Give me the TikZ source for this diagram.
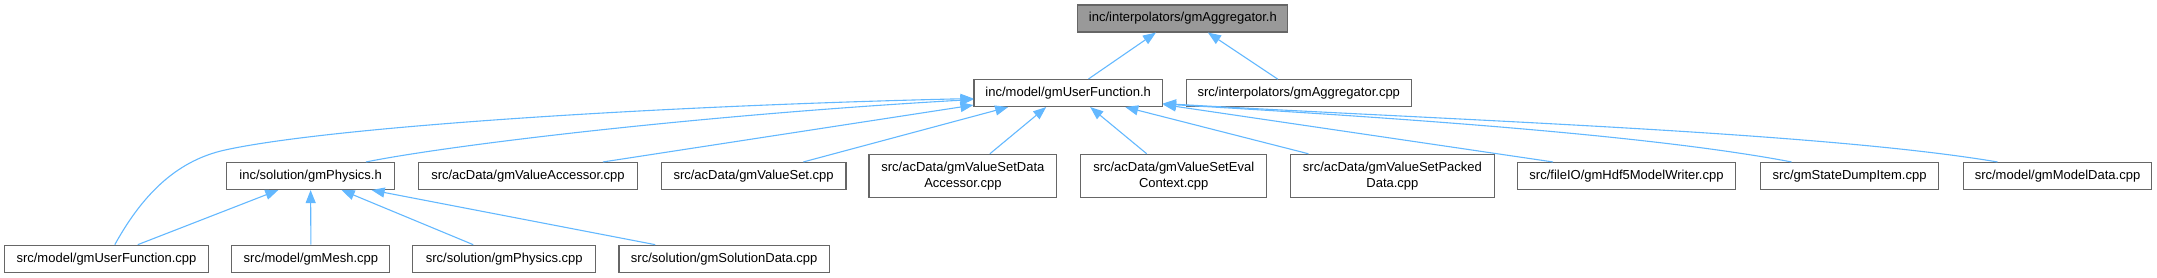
\documentclass[tikz,border=0pt]{standalone}
\usepackage{fontspec}
\setmainfont{Liberation Sans}
\usetikzlibrary{arrows.meta,calc}
\definecolor{edgeblue}{HTML}{63B8FF}
\definecolor{boxborder}{HTML}{666666}
\definecolor{mainfill}{HTML}{999999}
\begin{document}
\begin{tikzpicture}[x=1pt,y=-1pt,
  box/.style={draw=boxborder, line width=1.1pt, fill=white, inner sep=0pt, align=center, font=\fontsize{13}{16}\selectfont, minimum height=27pt},
  tallbox/.style={box, minimum height=43pt},
  mainbox/.style={box, fill=mainfill},
  edge/.style={draw=edgeblue, line width=1.1pt, -{Triangle[length=13pt,width=10pt]}, fill=none}
]
\useasboundingbox (0,0) rectangle (2157,277);

\node[mainbox, minimum width=210pt] (agg) at (1182.9,18.5) {inc/interpolators/gmAggregator.h};
\node[box, minimum width=188.5pt] (uf) at (1068.2,93) {inc/model/gmUserFunction.h};
\node[box, minimum width=225pt] (aggcpp) at (1298.8,93.2) {src/interpolators/gmAggregator.cpp};
\node[box, minimum width=167.7pt] (ph) at (310.6,176) {inc/solution/gmPhysics.h};
\node[box, minimum width=219.5pt] (va) at (528,176) {src/acData/gmValueAccessor.cpp};
\node[box, minimum width=184.8pt] (vs) at (753.6,176) {src/acData/gmValueSet.cpp};
\node[tallbox, minimum width=187.8pt] (vsda) at (962.9,175.8) {src/acData/gmValueSetData\\Accessor.cpp};
\node[tallbox, minimum width=186pt] (vsec) at (1173.7,175.8) {src/acData/gmValueSetEval\\Context.cpp};
\node[tallbox, minimum width=203.8pt] (vspd) at (1392.4,175.8) {src/acData/gmValueSetPacked\\Data.cpp};
\node[box, minimum width=218.5pt] (hdf) at (1626.5,176) {src/fileIO/gmHdf5ModelWriter.cpp};
\node[box, minimum width=178.6pt] (sdi) at (1849.6,176) {src/gmStateDumpItem.cpp};
\node[box, minimum width=188.5pt] (md) at (2057.5,176) {src/model/gmModelData.cpp};
\node[box, minimum width=203.9pt] (ufcpp) at (106.5,258.7) {src/model/gmUserFunction.cpp};
\node[box, minimum width=158pt] (mesh) at (310.9,258.7) {src/model/gmMesh.cpp};
\node[box, minimum width=182.8pt] (phcpp) at (504.2,258.7) {src/solution/gmPhysics.cpp};
\node[box, minimum width=210.5pt] (sd) at (724.2,258.7) {src/solution/gmSolutionData.cpp};

% to gmAggregator.h
\draw[edge] ($(uf.north)+(20.3,0)$) -- ($(agg.south)+(-27,0)$);
\draw[edge] ($(aggcpp.north)+(-21,0)$) -- ($(agg.south)+(25,0)$);

% to gmUserFunction.h
\draw[edge] ($(ufcpp.north)+(8.3,0)$) .. controls (145,190) and (180,160) .. (225,150)
  .. controls (330,127) and (650,106) .. ($(uf.west)+(0,5.5)$);
\draw[edge] ($(ph.north)+(55.4,0)$) .. controls (450,145) and (700,115) .. ($(uf.west)+(0,6.5)$);
\draw[edge] ($(va.north)+(75,0)$) -- ($(uf.south west)+(0,-2)$);
\draw[edge] ($(vs.north)+(49.7,0)$) -- ($(uf.south)+(-60,0)$);
\draw[edge] ($(vsda.north)+(27,0)$) -- ($(uf.south)+(-22,0)$);
\draw[edge] ($(vsec.north)+(-27,0)$) -- ($(uf.south)+(22,0)$);
\draw[edge] ($(vspd.north)+(-84,0)$) -- ($(uf.south)+(57,0)$);
\draw[edge] ($(hdf.north)+(-73.5,0)$) -- ($(uf.south east)+(0,-2.5)$);
\draw[edge] ($(sdi.north)+(-58,0)$) .. controls (1650,135) and (1400,118) .. ($(uf.south east)+(0,-3)$);
\draw[edge] ($(md.north)+(-60,0)$) .. controls (1820,132) and (1450,120) .. ($(uf.south east)+(0,-3.5)$);

% to gmPhysics.h
\draw[edge] ($(ufcpp.north)+(31.3,0)$) -- ($(ph.south)+(-32.3,0)$);
\draw[edge] (mesh.north) -- (ph.south);
\draw[edge] ($(phcpp.north)+(-31,0)$) -- ($(ph.south)+(31,0)$);
\draw[edge] ($(sd.north)+(-69,0)$) -- ($(ph.south)+(61,0)$);
\end{tikzpicture}
\end{document}
